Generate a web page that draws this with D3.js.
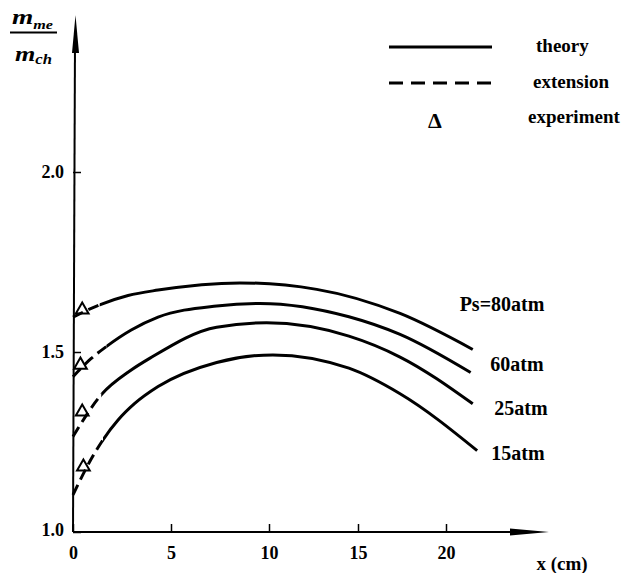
<!DOCTYPE html>
<html><head><meta charset="utf-8">
<script src="https://cdn.jsdelivr.net/npm/d3@7"></script>
<style>
html,body{margin:0;padding:0;background:#fff;}
svg text{font-family:"Liberation Serif","DejaVu Serif",serif;font-weight:bold;fill:#000;}
</style></head>
<body>
<svg id="chart" width="629" height="573"></svg>
<script>
// ---- data ----
const xTicks = [0, 5, 10, 15, 20];
const yTicks = [1.0, 1.5, 2.0];
const seriesNames = ["Ps=80atm", "60atm", "25atm", "15atm"];
const x80 = [0, 1.36, 2.81, 4.34, 8.52, 12.68, 17.39, 21.52];
const y80 = [1.597, 1.631, 1.657, 1.672, 1.692, 1.674, 1.607, 1.507];
const x60 = [0, 0.93, 1.70, 2.97, 4.34, 7.33, 9.54, 14.49, 17.39, 21.40];
const y60 = [1.431, 1.482, 1.515, 1.561, 1.597, 1.628, 1.635, 1.598, 1.549, 1.443];
const x25 = [0, 1.44, 2.97, 3.93, 7.33, 9.88, 14.49, 17.39, 21.52];
const y25 = [1.265, 1.381, 1.450, 1.483, 1.569, 1.581, 1.544, 1.486, 1.356];
const x15 = [0, 0.85, 1.53, 2.30, 3.15, 4.34, 7.33, 10.22, 14.49, 17.39, 21.77];
const y15 = [1.103, 1.195, 1.256, 1.311, 1.357, 1.404, 1.471, 1.492, 1.455, 1.384, 1.226];
const extEnd = [1.36, 1.70, 1.44, 1.53];          // end of the "extension" (dashed) part
const expX = [0.47, 0.38, 0.47, 0.53];            // experiment points
const expY = [1.617, 1.464, 1.334, 1.181];
const legendLabels = ["theory", "extension", "experiment"];

// ---- scales ----
const FONT = '"Liberation Serif","DejaVu Serif",serif';
const svg = d3.select("#chart");
const x = d3.scaleLinear().domain([0, 5, 10, 15, 20]).range([73, 171, 269, 358, 446]);
const y = d3.scaleLinear().domain([1.0, 2.0]).range([532, 172]);

const xs = [x80, x60, x25, x15];
const ys = [y80, y60, y25, y15];

// ---- axes ----
const yAxis = d3.axisLeft(y).tickValues(yTicks).tickFormat(d3.format(".1f"))
  .tickSizeInner(-8).tickSizeOuter(0).tickPadding(9);
const gy = svg.append("g").attr("transform", `translate(${x(0)},0)`).call(yAxis)
  .attr("font-family", FONT);
gy.select(".domain").remove();
gy.selectAll(".tick line").attr("stroke", "#000").attr("stroke-width", 1.5);
gy.selectAll(".tick text").attr("font-size", 18)
  .attr("dy", d => d === 1.0 ? "0.2em" : "0.3em");

const xAxis = d3.axisBottom(x).tickValues(xTicks).tickFormat(d3.format("d"))
  .tickSizeInner(-8).tickSizeOuter(0).tickPadding(14);
const gx = svg.append("g").attr("transform", `translate(0,${y(1.0)})`).call(xAxis)
  .attr("font-family", FONT);
gx.select(".domain").remove();
gx.selectAll(".tick line").attr("stroke", "#000").attr("stroke-width", 1.5);
gx.selectAll(".tick text").attr("font-size", 18);

// axis lines with arrows
const ax0 = x(0), ay0 = y(1.0);
svg.append("line").attr("x1", ax0).attr("y1", ay0).attr("x2", ax0 + 2).attr("y2", 40)
  .attr("stroke", "#000").attr("stroke-width", 2);
svg.append("path").attr("d", `M${ax0 + 2.5},15 L${ax0 - 1},53 L${ax0 + 6},53 Z`).attr("fill", "#000");
svg.append("line").attr("x1", ax0).attr("y1", ay0).attr("x2", 520).attr("y2", ay0)
  .attr("stroke", "#000").attr("stroke-width", 2);
svg.append("path").attr("d", `M549,${ay0} L510,${ay0 - 3.5} L510,${ay0 + 3.5} Z`).attr("fill", "#000");

svg.append("text").attr("x", 562).attr("y", 570).attr("text-anchor", "middle")
  .attr("font-size", 19).text("x (cm)");

// y label: m_me / m_ch
const yl = svg.append("g");
const t1 = yl.append("text").attr("x", 12).attr("y", 24).attr("font-size", 22).attr("font-style", "italic")
  .attr("textLength", 41).attr("lengthAdjust", "spacingAndGlyphs");
t1.append("tspan").text("m");
t1.append("tspan").attr("font-size", 13).attr("dy", 5).text("me");
yl.append("line").attr("x1", 10).attr("x2", 57).attr("y1", 32.5).attr("y2", 32.5)
  .attr("stroke", "#000").attr("stroke-width", 1.8);
const t2 = yl.append("text").attr("x", 15).attr("y", 61).attr("font-size", 22).attr("font-style", "italic")
  .attr("textLength", 37).attr("lengthAdjust", "spacingAndGlyphs");
t2.append("tspan").text("m");
t2.append("tspan").attr("font-size", 14).attr("dy", 3).text("ch");

// ---- curves ----
const line = d3.line().x(d => x(d[0])).y(d => y(d[1])).curve(d3.curveMonotoneX);
const defs = svg.append("defs");
xs.forEach((xa, i) => {
  const pts = xa.map((v, j) => [v, ys[i][j]]);
  defs.append("clipPath").attr("id", "dash" + i).append("rect")
    .attr("x", 0).attr("y", 0).attr("width", x(extEnd[i])).attr("height", 573);
  defs.append("clipPath").attr("id", "solid" + i).append("rect")
    .attr("x", x(extEnd[i])).attr("y", 0).attr("width", 629).attr("height", 573);
  svg.append("path").attr("d", line(pts)).attr("fill", "none").attr("stroke", "#000")
    .attr("stroke-width", 3).attr("stroke-dasharray", "11,6").attr("clip-path", `url(#dash${i})`);
  svg.append("path").attr("d", line(pts)).attr("fill", "none").attr("stroke", "#000")
    .attr("stroke-width", 3).attr("clip-path", `url(#solid${i})`);
});

// experiment triangles
const tri = d3.symbol(d3.symbolTriangle, 70);
expX.forEach((v, i) => {
  svg.append("path").attr("d", tri()).attr("transform", `translate(${x(v)},${y(expY[i])})`)
    .attr("fill", "none").attr("stroke", "#000").attr("stroke-width", 2);
});

// series labels
const labPos = [[502, 304], [517, 364], [521, 408], [518, 453]];
seriesNames.forEach((s, i) => {
  svg.append("text").attr("x", labPos[i][0]).attr("y", labPos[i][1]).attr("dy", "0.35em")
    .attr("text-anchor", "middle").attr("font-size", 20).text(s);
});

// ---- legend ----
svg.append("line").attr("x1", 389).attr("x2", 492).attr("y1", 47).attr("y2", 47)
  .attr("stroke", "#000").attr("stroke-width", 3);
svg.append("line").attr("x1", 389).attr("x2", 492).attr("y1", 83).attr("y2", 83)
  .attr("stroke", "#000").attr("stroke-width", 3).attr("stroke-dasharray", "14,8");
svg.append("text").attr("x", 435).attr("y", 120).attr("dy", "0.35em").attr("text-anchor", "middle")
  .attr("font-size", 22).text("Δ");
const legX = [536, 533, 528], legY = [46, 82, 117];
legendLabels.forEach((s, i) => {
  svg.append("text").attr("x", legX[i]).attr("y", legY[i]).attr("dy", "0.3em")
    .attr("font-size", 19).text(s);
});
</script>
</body></html>
